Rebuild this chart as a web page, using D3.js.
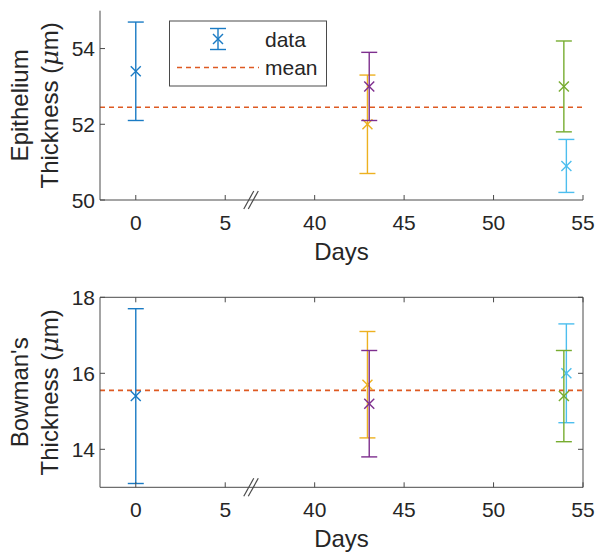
<!DOCTYPE html>
<html><head><meta charset="utf-8">
<script src="https://cdn.jsdelivr.net/npm/d3@7/dist/d3.min.js"></script>
<style>
body{margin:0;background:#fff}
text{font-family:Arial,"Liberation Sans",Helvetica,sans-serif;fill:#262626}
</style>
</head><body>
<svg id="c" width="595" height="554"></svg>
<script>
// ---- data ----
const seriesColors = ["#1a7bc4", "#EDB120", "#7E2F8E", "#4DBEEE", "#77AC30"];
const seriesDays   = [0, 42.95, 43.05, 54.07, 53.93];
const epiMean = [53.4, 52.0, 53.0, 50.9, 53.0];
const epiLow  = [52.1, 50.7, 52.1, 50.2, 51.8];
const epiHigh = [54.7, 53.3, 53.9, 51.6, 54.2];
const bowMean = [15.4, 15.7, 15.2, 16.0, 15.4];
const bowLow  = [13.1, 14.3, 13.8, 14.7, 14.2];
const bowHigh = [17.7, 17.1, 16.6, 17.3, 16.6];
const epiOverallMean = 52.45;
const bowOverallMean = 15.55;
const xTicks = [0, 5, 40, 45, 50, 55];
const epiTicks = [50, 52, 54];
const bowTicks = [14, 16, 18];
const xDomainBreak = [-2, 5, 40, 55]; // broken axis: 5..40 compressed
const breakDay = 15;
const legendLabels = ["data", "mean"];

// ---- layout ----
const svg = d3.select("#c");
const L = 100, R = 583;
const u = (R - L) / 27;
const x = d3.scaleLinear().domain(xDomainBreak).range([L, L + 7 * u, L + 12 * u, R]);
const axisColor = "#4a4a4a";
const meanColor = "#DE5A22";

function panel(top, bottom, yDomain, yTicks, means, lows, highs, overall, labelLines, box, order) {
  const y = d3.scaleLinear().domain(yDomain).range([bottom, top]);
  const g = svg.append("g");

  // mean line
  g.append("line").attr("x1", L).attr("x2", R)
    .attr("y1", y(overall)).attr("y2", y(overall))
    .attr("stroke", meanColor).attr("stroke-width", 1.6).attr("stroke-dasharray", "5,4");

  // error bars
  order.forEach(i => {
    const cx = x(seriesDays[i]);
    const c = seriesColors[i];
    const eg = g.append("g").attr("stroke", c).attr("stroke-width", 1.4).attr("fill", "none");
    eg.append("line").attr("x1", cx).attr("x2", cx).attr("y1", y(lows[i])).attr("y2", y(highs[i]));
    [lows[i], highs[i]].forEach(v => {
      eg.append("line").attr("x1", cx - 8).attr("x2", cx + 8).attr("y1", y(v)).attr("y2", y(v));
    });
    const my = y(means[i]), s = 5;
    eg.append("line").attr("x1", cx - s).attr("x2", cx + s).attr("y1", my - s).attr("y2", my + s);
    eg.append("line").attr("x1", cx - s).attr("x2", cx + s).attr("y1", my + s).attr("y2", my - s);
  });

  // axes
  const ax = g.append("g").attr("stroke", axisColor).attr("stroke-width", 1).attr("fill", "none");
  ax.append("line").attr("x1", L).attr("x2", L).attr("y1", top).attr("y2", bottom);
  ax.append("line").attr("x1", L).attr("x2", R).attr("y1", bottom).attr("y2", bottom);
  if (box) {
    ax.append("line").attr("x1", L).attr("x2", R).attr("y1", top).attr("y2", top);
    ax.append("line").attr("x1", R).attr("x2", R).attr("y1", top).attr("y2", bottom);
  }
  const tl = 5;
  xTicks.forEach(t => {
    ax.append("line").attr("x1", x(t)).attr("x2", x(t)).attr("y1", bottom).attr("y2", bottom - tl);
    if (box) ax.append("line").attr("x1", x(t)).attr("x2", x(t)).attr("y1", top).attr("y2", top + tl);
    g.append("text").attr("x", x(t)).attr("y", bottom + 30).attr("text-anchor", "middle")
      .attr("font-size", 21).text(t);
  });
  yTicks.forEach(t => {
    ax.append("line").attr("x1", L).attr("x2", L + tl).attr("y1", y(t)).attr("y2", y(t));
    if (box) ax.append("line").attr("x1", R).attr("x2", R - tl).attr("y1", y(t)).attr("y2", y(t));
    g.append("text").attr("x", L - 5).attr("y", y(t)).attr("dy", "0.36em").attr("text-anchor", "end")
      .attr("font-size", 21).text(t);
  });

  // break marks
  const bx = x(breakDay), by = bottom;
  [-2, 2.5].forEach(off => {
    ax.append("line").attr("x1", bx + off - 5).attr("y1", by + 9)
      .attr("x2", bx + off + 5).attr("y2", by - 9).attr("stroke-width", 1.2);
  });

  // x label
  g.append("text").attr("x", (L + R) / 2).attr("y", bottom + 60).attr("text-anchor", "middle")
    .attr("font-size", 24).text("Days");

  // y label
  const yc = (top + bottom) / 2;
  g.append("text").attr("transform", `translate(28,${yc}) rotate(-90)`).attr("text-anchor", "middle")
    .attr("font-size", 24).text(labelLines[0]);
  const t2 = g.append("text").attr("transform", `translate(58,${yc}) rotate(-90)`).attr("text-anchor", "middle")
    .attr("font-size", 24);
  t2.append("tspan").text("Thickness (");
  t2.append("tspan").attr("font-style", "italic").attr("font-family", "'DejaVu Serif','Liberation Serif',serif").text("\u03bc");
  t2.append("tspan").text("m)");
  return y;
}

panel(10.7, 200, [50, 55], epiTicks, epiMean, epiLow, epiHigh, epiOverallMean, ["Epithelium"], false, [0, 1, 2, 3, 4]);
panel(297.3, 487.3, [13, 18], bowTicks, bowMean, bowLow, bowHigh, bowOverallMean, ["Bowman's"], true, [0, 1, 2, 3, 4]);

// legend
const lg = svg.append("g");
lg.append("rect").attr("x", 169.5).attr("y", 21).attr("width", 157).attr("height", 65)
  .attr("fill", "#fff").attr("stroke", axisColor).attr("stroke-width", 1);
const lx = 218, ly = 39;
const lge = lg.append("g").attr("stroke", seriesColors[0]).attr("stroke-width", 1.4);
lge.append("line").attr("x1", lx).attr("x2", lx).attr("y1", 28.5).attr("y2", 49.5);
lge.append("line").attr("x1", lx - 8).attr("x2", lx + 8).attr("y1", 28.5).attr("y2", 28.5);
lge.append("line").attr("x1", lx - 8).attr("x2", lx + 8).attr("y1", 49.5).attr("y2", 49.5);
lge.append("line").attr("x1", lx - 5).attr("x2", lx + 5).attr("y1", ly - 5).attr("y2", ly + 5);
lge.append("line").attr("x1", lx - 5).attr("x2", lx + 5).attr("y1", ly + 5).attr("y2", ly - 5);
lg.append("text").attr("x", 265).attr("y", 46.5).attr("font-size", 21).text(legendLabels[0]);
lg.append("line").attr("x1", 177).attr("x2", 259).attr("y1", 67.5).attr("y2", 67.5)
  .attr("stroke", meanColor).attr("stroke-width", 1.3).attr("stroke-dasharray", "5,4");
lg.append("text").attr("x", 265).attr("y", 75).attr("font-size", 21).text(legendLabels[1]);
</script>
</body></html>
